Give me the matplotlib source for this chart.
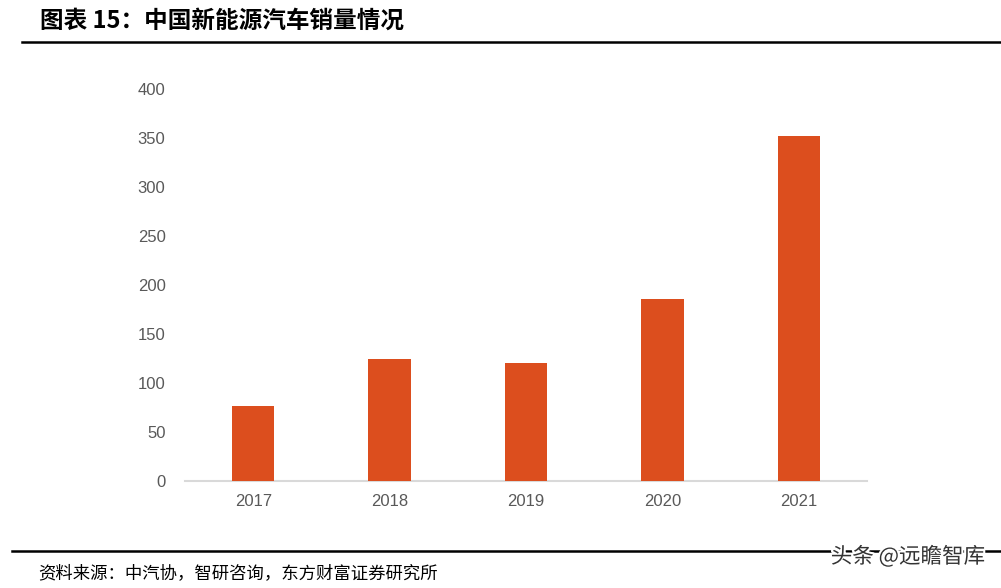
import matplotlib.pyplot as plt
import matplotlib.patheffects as pe

plt.rcParams['font.family'] = ['Noto Sans CJK SC', 'DejaVu Sans']

years = ['2017', '2018', '2019', '2020', '2021']
sales = [77, 125, 120, 186, 352]
y_ticks = [0, 50, 100, 150, 200, 250, 300, 350, 400]

title = '图表 15：中国新能源汽车销量情况'
source = '资料来源：中汽协，智研咨询，东方财富证券研究所'
mark = '头条 @远瞻智库'

W, H = 1001, 588
fig = plt.figure(figsize=(W / 100, H / 100), dpi=100)

# axes placed in pixel terms
left, right, top, bottom = 185, 867, 89, 481
ax = fig.add_axes([left / W, 1 - bottom / H, (right - left) / W, (bottom - top) / H])

ax.bar(range(len(years)), sales, width=0.31, color='#DC4E1E', zorder=3)
ax.set_xlim(-0.5, len(years) - 0.5)
ax.set_ylim(0, 400)
ax.set_yticks(y_ticks)
ax.set_xticks(range(len(years)))
ax.set_xticklabels(years)

for s in ['top', 'right', 'left']:
    ax.spines[s].set_visible(False)
ax.spines['bottom'].set_color('#D9D9D9')
ax.spines['bottom'].set_linewidth(1.5)
ax.tick_params(axis='both', length=0, labelsize=12, colors='#595959')
ax.tick_params(axis='y', pad=14)
ax.tick_params(axis='x', pad=9)
for lab in ax.get_xticklabels() + ax.get_yticklabels():
    lab.set_family(['Liberation Sans', 'DejaVu Sans'])

# title and rules
fig.text(40 / W, 1 - 21 / H, title, fontsize=17, fontweight='bold', va='center', ha='left')
fig.add_artist(plt.Line2D([22 / W, 1], [1 - 42 / H] * 2, color='black', lw=1.8))
fig.add_artist(plt.Line2D([12 / W, 1], [1 - 551 / H] * 2, color='black', lw=1.8))
fig.text(38 / W, 1 - 573 / H, source, fontsize=12.5, va='center', ha='left')
fig.text(985 / W, 1 - 557 / H, mark, fontsize=15.5, va='center', ha='right', color='#333333',
         path_effects=[pe.withStroke(linewidth=3, foreground='white')])

fig.savefig('out.png', dpi=100)
